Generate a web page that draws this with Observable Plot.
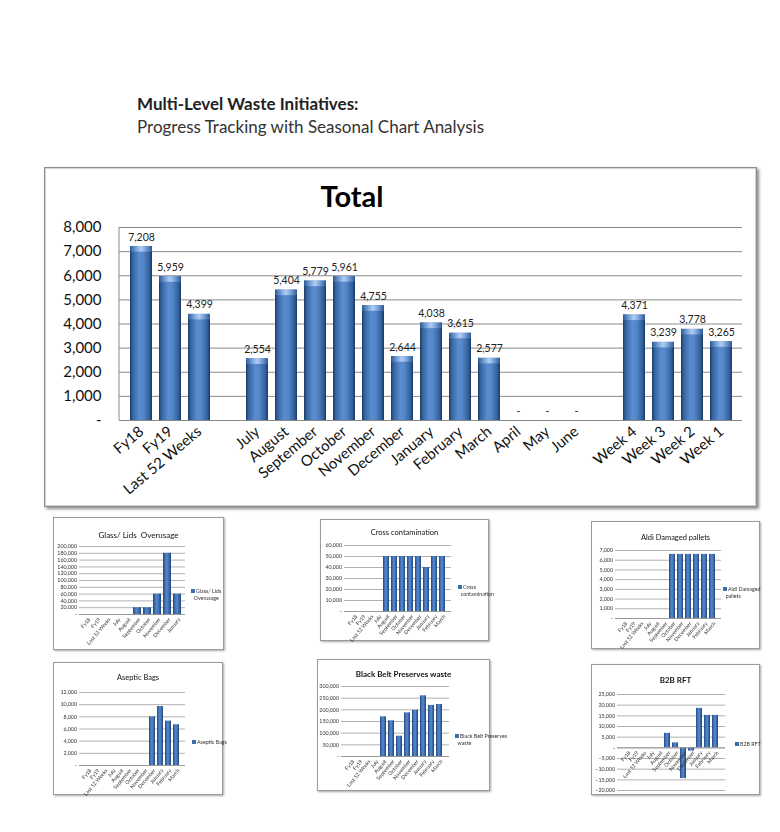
<!DOCTYPE html>
<html><head><meta charset="utf-8">
<script src="https://cdn.jsdelivr.net/npm/d3@7"></script>
<script src="https://cdn.jsdelivr.net/npm/@observablehq/plot@0.6"></script>
<style>
body{margin:0;background:#fff;font-family:Lato,"Open Sans",sans-serif;}
#page{position:relative;width:780px;height:832px;overflow:hidden;background:#fff;}
.t{position:absolute;white-space:nowrap;line-height:1;}
.frame{position:absolute;background:#fff;border:1px solid #8c8c8c;box-shadow:2px 2px 3px rgba(0,0,0,.45), inset 0 0 0 1px #d4d4d4;box-sizing:border-box;}
.mframe{position:absolute;background:#fff;border:1px solid #9a9a9a;box-shadow:1px 1px 2px rgba(0,0,0,.35);box-sizing:border-box;}
.mframe svg{position:absolute;left:0;top:0;}
.mtitle{position:absolute;left:0;right:0;text-align:center;line-height:1;white-space:nowrap;color:#111;}
.leg{position:absolute;font-size:5.3px;line-height:6.5px;color:#333;white-space:nowrap;}
.leg i{display:inline-block;width:4px;height:4px;background:#3e6db0;margin-right:1px;vertical-align:0px;}
.blur{filter:blur(0.35px);}
</style>
</head><body>
<div id="page"></div>
<script>
// ---------- data: main "Total" chart ----------
const summaryLabels = ["Fy18", "Fy19", "Last 52 Weeks"];
const summaryValues = [7208, 5959, 4399];
const monthLabels = ["July", "August", "September", "October", "November", "December", "January", "February", "March", "April", "May", "June"];
const monthValues = [2554, 5404, 5779, 5961, 4755, 2644, 4038, 3615, 2577, 0, 0, 0];
const weekLabels = ["Week 4", "Week 3", "Week 2", "Week 1"];
const weekValues = [4371, 3239, 3778, 3265];
const mainTicks = [0, 1000, 2000, 3000, 4000, 5000, 6000, 7000, 8000];

// ---------- data: small charts ----------
const miniCategories = ["Fy18", "Fy19", "Last 52 Weeks", "July", "August", "September", "October", "November", "December", "January", "February", "March"];
const glassCategories = miniCategories.slice(0, 10);
const glassValues = [null, null, null, null, null, 20000, 20000, 60000, 180000, 60000];
const glassTicks = [0, 20000, 40000, 60000, 80000, 100000, 120000, 140000, 160000, 180000, 200000];
const crossValues = [null, null, null, null, 50000, 50000, 50000, 50000, 50000, 40000, 50000, 50000];
const crossTicks = [0, 10000, 20000, 30000, 40000, 50000, 60000];
const aldiValues = [null, null, null, null, null, null, 6600, 6600, 6600, 6600, 6600, 6600];
const aldiTicks = [0, 1000, 2000, 3000, 4000, 5000, 6000, 7000];
const asepticValues = [null, null, null, null, null, null, null, null, 8000, 9700, 7300, 6700];
const asepticTicks = [0, 2000, 4000, 6000, 8000, 10000, 12000];
const blackBeltValues = [null, null, null, null, 170000, 153000, 87000, 187000, 198000, 260000, 219000, 223000];
const blackBeltTicks = [0, 50000, 100000, 150000, 200000, 250000, 300000];
const b2bValues = [null, null, null, null, null, 6800, 2300, -14400, -1500, 18500, 15200, 15200];
const b2bTicks = [-20000, -15000, -10000, -5000, 0, 5000, 10000, 15000, 20000, 25000];

const pageTitle = "Multi-Level Waste Initiatives:";
const pageSubtitle = "Progress Tracking with Seasonal Chart Analysis";

// ---------- helpers ----------
const fmt = d3.format(",");
const page = document.getElementById("page");
function el(tag, cls, style, html) {
  const e = document.createElement(tag);
  if (cls) e.className = cls;
  Object.assign(e.style, style || {});
  if (html != null) e.innerHTML = html;
  return e;
}

// shared gradients
page.insertAdjacentHTML("beforeend", `<svg width="0" height="0" style="position:absolute">
<defs>
<linearGradient id="barGrad" x1="0" x2="1" y1="0" y2="0">
<stop offset="0" stop-color="#1b3a66"/><stop offset="0.12" stop-color="#35649f"/>
<stop offset="0.42" stop-color="#5a8cd0"/><stop offset="0.6" stop-color="#5586c9"/>
<stop offset="0.88" stop-color="#31609b"/><stop offset="1" stop-color="#1a3760"/>
</linearGradient>
<linearGradient id="capGrad" x1="0" x2="1" y1="0" y2="0">
<stop offset="0" stop-color="#2d5a94"/><stop offset="0.3" stop-color="#7ea6de"/>
<stop offset="0.5" stop-color="#b2cdf2"/><stop offset="0.7" stop-color="#7ea6de"/>
<stop offset="1" stop-color="#2d5a94"/>
</linearGradient>
<linearGradient id="miniGrad" x1="0" x2="1" y1="0" y2="0">
<stop offset="0" stop-color="#234a80"/><stop offset="0.4" stop-color="#5285c8"/>
<stop offset="0.6" stop-color="#4c7ec1"/><stop offset="1" stop-color="#22467a"/>
</linearGradient>
</defs></svg>`);

// ---------- page title ----------
page.appendChild(el("div", "t", {left: "137px", top: "95px", fontSize: "17px", fontWeight: "700", color: "#222"}, pageTitle));
page.appendChild(el("div", "t", {left: "137px", top: "118px", fontSize: "17px", color: "#333"}, pageSubtitle));

// ---------- main chart ----------
const mainFrame = el("div", "frame", {left: "44px", top: "167px", width: "713px", height: "340px"});
page.appendChild(mainFrame);
page.appendChild(el("div", "t", {left: "352px", top: "181px", fontSize: "29px", fontWeight: "700", color: "#000", transform: "translateX(-50%)"}, "Total"));

const mainRows = [
  ...summaryLabels.map((l, i) => ({label: l, value: summaryValues[i]})),
  ...monthLabels.map((l, i) => ({label: l, value: monthValues[i]})),
  ...weekLabels.map((l, i) => ({label: l, value: weekValues[i]}))
];
const mainDomain = [...summaryLabels, "gap-a", ...monthLabels, "gap-b", ...weekLabels];
const barRows = mainRows.filter(d => d.value > 0);

const leftBorder = (index, scales, values, dim) => {
  const l = d3.create("svg:line")
    .attr("x1", dim.marginLeft).attr("x2", dim.marginLeft)
    .attr("y1", dim.marginTop).attr("y2", dim.height - dim.marginBottom)
    .attr("stroke", "#8a8a8a");
  return l.node();
};

const mainSvg = Plot.plot({
  width: 711, height: 336,
  marginLeft: 74, marginRight: 14, marginTop: 59, marginBottom: 84,
  style: {fontFamily: "Lato, 'Open Sans', sans-serif", background: "transparent", overflow: "visible"},
  x: {domain: mainDomain, padding: 0.25, label: null},
  y: {domain: [0, 8000], label: null},
  marks: [
    Plot.gridY(mainTicks, {stroke: "#8a8a8a", strokeOpacity: 1}),
    leftBorder,
    Plot.barY(barRows, {x: "label", y: "value", fill: "url(#barGrad)"}),
    Plot.barY(barRows, {x: "label", y1: d => d.value - 230, y2: "value", fill: "url(#capGrad)"}),
    Plot.ruleY([0], {stroke: "#8a8a8a"}),
    Plot.text(mainRows, {x: "label", y: "value", text: d => d.value ? fmt(d.value) : "-", dy: -6, lineAnchor: "bottom", fontSize: 10.5, fill: "#222"}),
    Plot.axisY({ticks: mainTicks, tickFormat: d => d === 0 ? "-" : fmt(d), tickSize: 0, tickPadding: 18, fontSize: 15, fill: "#111", label: null}),
    Plot.axisX({tickFormat: d => d.startsWith("gap") ? "" : d, tickRotate: -40, tickSize: 0, tickPadding: 9, fontSize: 15, fill: "#111", label: null})
  ]
});
mainSvg.style.position = "absolute";
mainSvg.style.left = "45px";
mainSvg.style.top = "168px";
page.appendChild(mainSvg);

// ---------- mini charts ----------
function mini(cfg, cats, values, ticks, title, legendLines) {
  const box = el("div", "mframe", {left: cfg.x + "px", top: cfg.y + "px", width: cfg.w + "px", height: cfg.h + "px"});
  page.appendChild(box);
  const inner = el("div", "blur", {position: "absolute", left: 0, top: 0, width: "100%", height: "100%"});
  box.appendChild(inner);
  const rows = cats.map((c, i) => ({cat: c, value: values[i]})).filter(d => d.value != null);
  const svg = Plot.plot({
    width: cfg.w - 2, height: cfg.h - 2,
    marginLeft: cfg.mL, marginRight: cfg.mR, marginTop: cfg.mT, marginBottom: cfg.mB,
    style: {fontFamily: "Lato, 'Open Sans', sans-serif", background: "transparent", overflow: "visible"},
    x: {domain: cats, padding: 0.25, axis: null},
    y: {domain: [ticks[0], ticks[ticks.length - 1]], axis: null},
    marks: [
      Plot.gridY(ticks, {stroke: "#a8a8a8", strokeOpacity: 1, strokeWidth: 0.9}),
      Plot.barY(rows, {x: "cat", y: "value", fill: "url(#miniGrad)"}),
      Plot.ruleY([0], {stroke: "#999"}),
      Plot.axisY({ticks, tickFormat: d => d === 0 ? "-" : fmt(d), tickSize: 0, tickPadding: 2.5, fontSize: 5.3, fill: "#333", label: null}),
      Plot.text(cats, {x: d => d, y: 0, text: d => d, rotate: -50, textAnchor: "end", dy: 4, dx: 2, fontSize: 5.2, fill: "#333"})
    ]
  });
  inner.appendChild(svg);
  inner.appendChild(el("div", "mtitle", {top: (cfg.titleY - cfg.titleSize / 2) + "px", fontSize: cfg.titleSize + "px", fontWeight: cfg.bold ? "700" : "400"}, title));
  const leg = el("div", "leg", {left: cfg.lx + "px", top: cfg.ly + "px"},
    legendLines.map((s, i) => (i === 0 ? "<i></i>" : "&nbsp;&nbsp;") + s).join("<br>"));
  inner.appendChild(leg);
}

mini({x: 53, y: 517, w: 171, h: 133, mL: 25, mR: 38, mT: 28, mB: 35, titleY: 17, titleSize: 8, bold: false, lx: 137, ly: 70},
  glassCategories, glassValues, glassTicks, "Glass/ Lids &nbsp;Overusage", ["Glass/ Lids", "Overusage"]);
mini({x: 320, y: 519, w: 169, h: 122, mL: 23, mR: 37, mT: 25, mB: 29, titleY: 13, titleSize: 7.5, bold: false, lx: 137, ly: 64},
  miniCategories, crossValues, crossTicks, "Cross contamination", ["Cross", "contamination"]);
mini({x: 591, y: 521, w: 169, h: 128, mL: 23, mR: 38, mT: 28, mB: 30, titleY: 16, titleSize: 7.5, bold: false, lx: 131, ly: 64},
  miniCategories, aldiValues, aldiTicks, "Aldi Damaged pallets", ["Aldi Damaged", "pallets"]);
mini({x: 53, y: 662, w: 170, h: 133, mL: 25, mR: 37, mT: 29, mB: 29, titleY: 15, titleSize: 7.5, bold: false, lx: 138, ly: 76},
  miniCategories, asepticValues, asepticTicks, "Aseptic Bags", ["Aseptic Bags"]);
mini({x: 317, y: 659, w: 173, h: 132, mL: 23, mR: 40, mT: 26, mB: 34, titleY: 14, titleSize: 8, bold: true, lx: 137, ly: 73},
  miniCategories, blackBeltValues, blackBeltTicks, "Black Belt Preserves waste", ["Black Belt Preserves", "waste"]);
mini({x: 591, y: 664, w: 169, h: 131, mL: 25, mR: 34, mT: 29, mB: 4, titleY: 15, titleSize: 8, bold: true, lx: 143, ly: 76},
  miniCategories, b2bValues, b2bTicks, "B2B RFT", ["B2B RFT"]);
</script>
</body></html>
